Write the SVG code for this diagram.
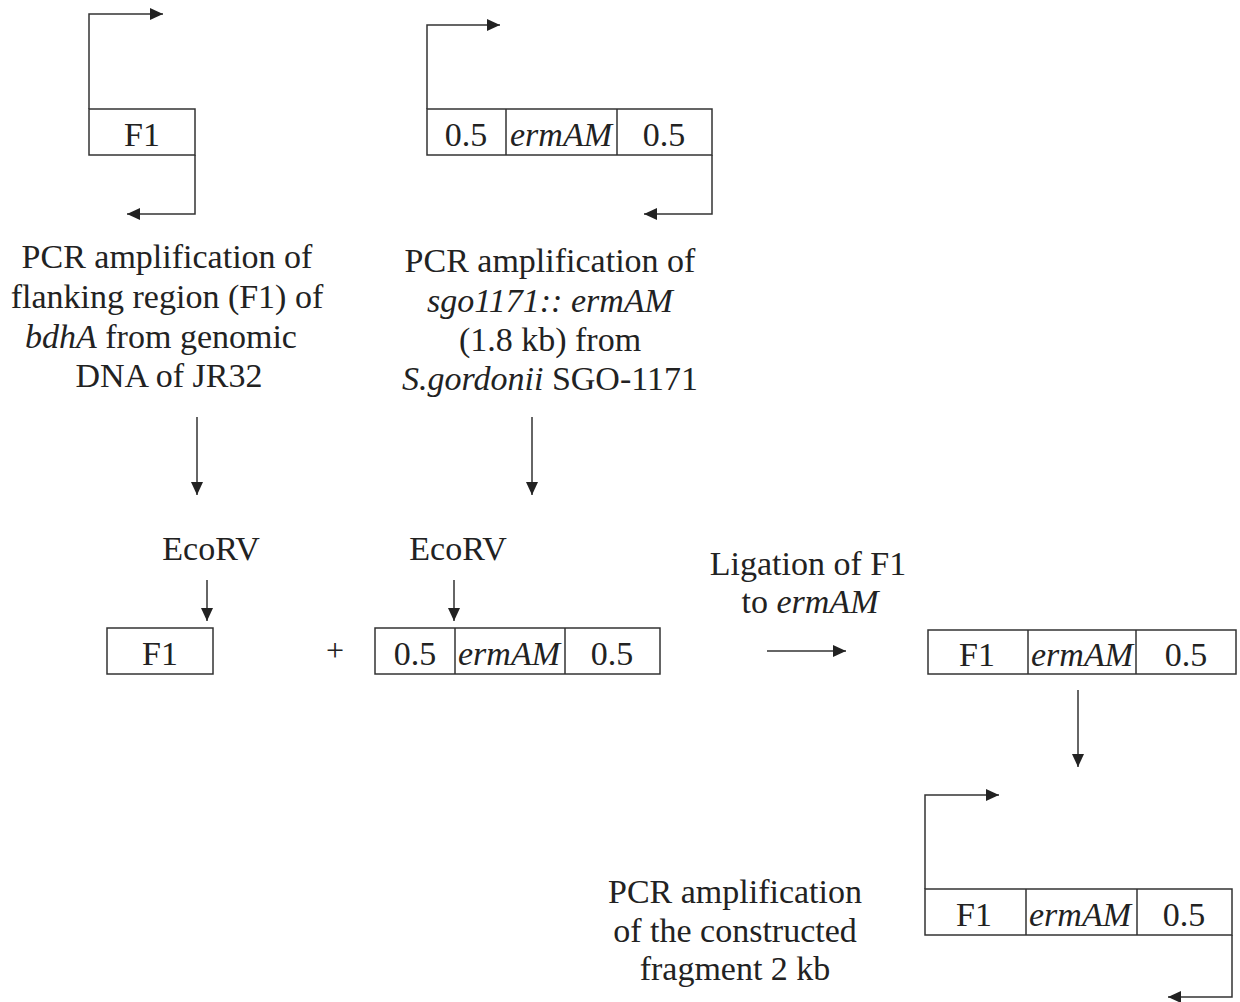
<svg xmlns="http://www.w3.org/2000/svg" width="1240" height="1002" viewBox="0 0 1240 1002">
<defs>
<style>
.t{font-family:"Liberation Serif","Times New Roman",serif;font-size:34px;fill:#222;text-anchor:middle}
.i{font-style:italic}
.box{fill:none;stroke:#333;stroke-width:1.5}
.ln{fill:none;stroke:#333;stroke-width:1.5}
</style>
<marker id="ah" markerUnits="userSpaceOnUse" markerWidth="16" markerHeight="14" refX="13" refY="6" orient="auto">
<path d="M0,0 L13,6 L0,12 Z" fill="#222"/>
</marker>
</defs>
<rect width="1240" height="1002" fill="#fff"/>

<g id="connectors">
<path class="ln" d="M89,109 V14 H163" marker-end="url(#ah)"/>
<path class="ln" d="M195,155 V214 H127" marker-end="url(#ah)"/>
<path class="ln" d="M427,109 V25 H500" marker-end="url(#ah)"/>
<path class="ln" d="M712,155 V214 H644" marker-end="url(#ah)"/>
<path class="ln" d="M197,417 V495" marker-end="url(#ah)"/>
<path class="ln" d="M532,417 V495" marker-end="url(#ah)"/>
<path class="ln" d="M207,580 V621" marker-end="url(#ah)"/>
<path class="ln" d="M454,580 V621" marker-end="url(#ah)"/>
<path class="ln" d="M767,651 H846" marker-end="url(#ah)"/>
<path class="ln" d="M1078,690 V767" marker-end="url(#ah)"/>
<path class="ln" d="M925,889 V795 H999" marker-end="url(#ah)"/>
<path class="ln" d="M1232,935 V997 H1168" marker-end="url(#ah)"/>
</g>

<g id="f1-top">
<rect class="box" x="89" y="109" width="106" height="46"/>
<text class="t" x="142" y="146">F1</text>
</g>

<g id="erm-top">
<rect class="box" x="427" y="109" width="285" height="46"/>
<line class="ln" x1="506" y1="109" x2="506" y2="155"/>
<line class="ln" x1="617" y1="109" x2="617" y2="155"/>
<text class="t" x="466" y="146">0.5</text>
<text class="t i" x="561" y="146">ermAM</text>
<text class="t" x="664" y="146">0.5</text>
</g>

<g id="text-left">
<text class="t" x="167" y="268">PCR amplification of</text>
<text class="t" x="167" y="308">flanking region (F1) of</text>
<text class="t" x="161" y="348"><tspan class="i">bdhA</tspan> from genomic</text>
<text class="t" x="169" y="387">DNA of JR32</text>
</g>

<g id="text-mid">
<text class="t" x="550" y="272">PCR amplification of</text>
<text class="t" x="550" y="312"><tspan class="i">sgo1171:: ermAM</tspan></text>
<text class="t" x="550" y="351">(1.8 kb) from</text>
<text class="t" x="550" y="390"><tspan class="i">S.gordonii</tspan> SGO-1171</text>
</g>

<g id="ecorv1"><text class="t" x="211" y="560">EcoRV</text></g>
<g id="ecorv2"><text class="t" x="458" y="560">EcoRV</text></g>

<g id="f1-mid">
<rect class="box" x="107" y="628" width="106" height="46"/>
<text class="t" x="160" y="665">F1</text>
</g>

<g id="plus"><text class="t" x="335" y="661" style="font-size:32px">+</text></g>

<g id="erm-mid">
<rect class="box" x="375" y="628" width="285" height="46"/>
<line class="ln" x1="455" y1="628" x2="455" y2="674"/>
<line class="ln" x1="565" y1="628" x2="565" y2="674"/>
<text class="t" x="415" y="665">0.5</text>
<text class="t i" x="509" y="665">ermAM</text>
<text class="t" x="612" y="665">0.5</text>
</g>

<g id="ligation">
<text class="t" x="808" y="575">Ligation of F1</text>
<text class="t" x="810" y="613">to <tspan class="i">ermAM</tspan></text>
</g>

<g id="fused-mid">
<rect class="box" x="928" y="630" width="308" height="44"/>
<line class="ln" x1="1028" y1="630" x2="1028" y2="674"/>
<line class="ln" x1="1136" y1="630" x2="1136" y2="674"/>
<text class="t" x="977" y="666">F1</text>
<text class="t i" x="1082" y="666">ermAM</text>
<text class="t" x="1186" y="666">0.5</text>
</g>

<g id="fused-bottom">
<rect class="box" x="925" y="889" width="307" height="46"/>
<line class="ln" x1="1026" y1="889" x2="1026" y2="935"/>
<line class="ln" x1="1137" y1="889" x2="1137" y2="935"/>
<text class="t" x="974" y="926">F1</text>
<text class="t i" x="1080" y="926">ermAM</text>
<text class="t" x="1184" y="926">0.5</text>
</g>

<g id="text-bottom">
<text class="t" x="735" y="903">PCR amplification</text>
<text class="t" x="735" y="942">of the constructed</text>
<text class="t" x="735" y="980">fragment 2 kb</text>
</g>
</svg>
